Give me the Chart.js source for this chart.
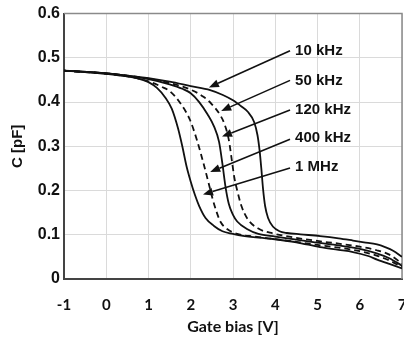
<!DOCTYPE html>
<html>
<head>
<meta charset="utf-8">
<script src="https://cdn.jsdelivr.net/npm/chart.js@4.4.1/dist/chart.umd.min.js"></script>
<style>
  html, body { margin: 0; padding: 0; background: #fff; overflow: hidden; }
  #wrap { position: absolute; left: 0; top: 0; }
</style>
</head>
<body>
<div id="wrap"><canvas id="cv" width="406" height="338"></canvas></div>
<script>
// gate bias (V) and capacitance (pF), one pair per frequency
const bias10k = [-1, 0, 0.5, 1, 1.5, 2, 2.46, 2.76, 3.0, 3.2, 3.35, 3.5, 3.58, 3.63, 3.67, 3.71, 3.76, 3.83, 3.95, 4.1, 4.28, 4.6, 5.06, 5.5, 5.84, 6.1, 6.41, 6.6, 6.79, 7];
const cap10k  = [0.471, 0.465, 0.46, 0.454, 0.446, 0.436, 0.427, 0.416, 0.404, 0.39, 0.378, 0.355, 0.325, 0.29, 0.25, 0.205, 0.165, 0.138, 0.118, 0.108, 0.104, 0.101, 0.097, 0.092, 0.087, 0.083, 0.078, 0.072, 0.064, 0.05];

const bias50k = [-1, 0, 0.5, 1, 1.5, 2, 2.3, 2.5, 2.7, 2.8, 2.9, 2.97, 3.03, 3.1, 3.2, 3.35, 3.6, 3.95, 4.5, 5, 5.5, 6, 6.4, 6.7, 7];
const cap50k  = [0.471, 0.465, 0.46, 0.453, 0.443, 0.428, 0.412, 0.395, 0.37, 0.35, 0.315, 0.27, 0.23, 0.2, 0.165, 0.135, 0.114, 0.103, 0.093, 0.086, 0.08, 0.073, 0.065, 0.055, 0.035];

const bias120k = [-1, 0, 0.5, 1, 1.5, 1.8, 2.0, 2.2, 2.4, 2.55, 2.67, 2.75, 2.82, 2.9, 3.0, 3.1, 3.33, 3.6, 4, 4.5, 5, 5.5, 6, 6.4, 6.7, 7];
const cap120k  = [0.471, 0.465, 0.459, 0.452, 0.44, 0.43, 0.42, 0.4, 0.372, 0.345, 0.31, 0.26, 0.21, 0.17, 0.145, 0.13, 0.113, 0.102, 0.096, 0.089, 0.082, 0.076, 0.068, 0.058, 0.047, 0.03];

const bias400k = [-1, 0, 0.5, 1, 1.3, 1.5, 1.75, 1.98, 2.15, 2.3, 2.42, 2.52, 2.6, 2.7, 2.86, 3.1, 3.5, 4, 4.5, 5, 5.5, 6, 6.4, 6.7, 7];
const cap400k  = [0.471, 0.464, 0.458, 0.447, 0.435, 0.425, 0.398, 0.36, 0.313, 0.262, 0.218, 0.18, 0.155, 0.13, 0.113, 0.102, 0.096, 0.09, 0.084, 0.077, 0.071, 0.063, 0.053, 0.042, 0.027];

const bias1M = [-1, -0.5, 0, 0.5, 0.8, 1.0, 1.2, 1.4, 1.55, 1.7, 1.8, 1.9, 2.0, 2.1, 2.2, 2.35, 2.55, 2.75, 3.0, 3.2, 3.9, 4.5, 5.06, 5.5, 5.84, 6.2, 6.41, 6.7, 7];
const cap1M  = [0.471, 0.468, 0.464, 0.458, 0.452, 0.445, 0.432, 0.41, 0.385, 0.34, 0.30, 0.255, 0.22, 0.19, 0.165, 0.138, 0.12, 0.108, 0.102, 0.098, 0.091, 0.083, 0.072, 0.066, 0.061, 0.052, 0.044, 0.034, 0.024];

const xTicks = [-1, 0, 1, 2, 3, 4, 5, 6, 7];
const yTicks = [0, 0.1, 0.2, 0.3, 0.4, 0.5, 0.6];
const yTickLabels = ['0', '0.1', '0.2', '0.3', '0.4', '0.5', '0.6'];

// callout labels: text, text anchor (V, pF), arrow tail, arrow tip
const labelText = ['10 kHz', '50 kHz', '120 kHz', '400 kHz', '1 MHz'];
const labelPos  = [[4.47, 0.516], [4.47, 0.449], [4.47, 0.382], [4.47, 0.318], [4.47, 0.253]];
const arrowFrom = [[4.35, 0.516], [4.35, 0.449], [4.35, 0.382], [4.35, 0.316], [4.35, 0.251]];
const arrowTo   = [[2.43, 0.433], [2.72, 0.38], [2.74, 0.322], [2.46, 0.242], [2.29, 0.191]];

const INK = '#111';

function pairs(xs, ys) { return xs.map((x, i) => ({ x: x, y: ys[i] })); }

function series(xs, ys, dashed) {
  return {
    data: pairs(xs, ys),
    borderColor: INK,
    borderWidth: 1.8,
    borderDash: dashed ? [6, 4] : [],
    pointRadius: 0,
    fill: false,
    cubicInterpolationMode: 'monotone'
  };
}

const frame = {
  id: 'frame',
  beforeDatasetsDraw(chart) {
    const { ctx, chartArea: a } = chart;
    ctx.save();
    ctx.strokeStyle = '#8a8a8a';
    ctx.lineWidth = 1.5;
    ctx.beginPath();
    ctx.moveTo(a.left, a.top);
    ctx.lineTo(a.right, a.top);
    ctx.lineTo(a.right, a.bottom);
    ctx.stroke();
    ctx.restore();
  }
};

const callouts = {
  id: 'callouts',
  afterDatasetsDraw(chart) {
    const { ctx, scales: { x, y } } = chart;
    ctx.save();
    ctx.strokeStyle = INK;
    ctx.fillStyle = INK;
    ctx.lineWidth = 1.6;
    labelText.forEach((t, i) => {
      const x0 = x.getPixelForValue(arrowFrom[i][0]), y0 = y.getPixelForValue(arrowFrom[i][1]);
      const x1 = x.getPixelForValue(arrowTo[i][0]), y1 = y.getPixelForValue(arrowTo[i][1]);
      const ang = Math.atan2(y1 - y0, x1 - x0);
      const len = 10, half = 4;
      const bx = x1 - len * Math.cos(ang), by = y1 - len * Math.sin(ang);
      ctx.beginPath();
      ctx.moveTo(x0, y0);
      ctx.lineTo(bx, by);
      ctx.stroke();
      ctx.beginPath();
      ctx.moveTo(x1, y1);
      ctx.lineTo(bx + half * Math.sin(ang), by - half * Math.cos(ang));
      ctx.lineTo(bx - half * Math.sin(ang), by + half * Math.cos(ang));
      ctx.closePath();
      ctx.fill();

      ctx.font = 'bold 15px "Liberation Sans", Arial, sans-serif';
      ctx.textAlign = 'left';
      ctx.textBaseline = 'middle';
      ctx.fillText(t, x.getPixelForValue(labelPos[i][0]), y.getPixelForValue(labelPos[i][1]));
    });
    ctx.restore();
  }
};

new Chart(document.getElementById('cv'), {
  type: 'line',
  data: {
    datasets: [
      series(bias10k, cap10k, false),
      series(bias50k, cap50k, true),
      series(bias120k, cap120k, false),
      series(bias400k, cap400k, true),
      series(bias1M, cap1M, false)
    ]
  },
  options: {
    responsive: false,
    animation: false,
    layout: { padding: { top: 9, left: 0, right: 0, bottom: 0 } },
    plugins: { legend: { display: false }, tooltip: { enabled: false } },
    scales: {
      x: {
        type: 'linear',
        min: -1,
        max: 7,
        afterBuildTicks: s => { s.ticks = xTicks.map(v => ({ value: v })); },
        afterFit: s => { s.height = 59; s.paddingLeft = 0; s.paddingRight = 4; },
        grid: { color: '#dadada', lineWidth: 1, drawTicks: false },
        border: { color: '#444', width: 2 },
        ticks: {
          color: '#111',
          padding: 17,
          maxRotation: 0,
          font: { family: 'Lato', weight: 'bold', size: 15 }
        },
        title: {
          display: true,
          text: 'Gate bias [V]',
          color: '#111',
          padding: { top: 0, bottom: 2 },
          font: { family: 'Lato', weight: 'bold', size: 16 }
        }
      },
      y: {
        min: 0,
        max: 0.6,
        afterBuildTicks: s => { s.ticks = yTicks.map(v => ({ value: v })); },
        afterFit: s => { s.width = 64; },
        grid: { color: '#dadada', lineWidth: 1, drawTicks: false },
        border: { color: '#444', width: 2 },
        ticks: {
          color: '#111',
          padding: 4,
          callback: (v, i) => yTickLabels[i],
          font: { family: 'Liberation Sans', weight: 'bold', size: 16 }
        },
        title: {
          display: true,
          text: 'C [pF]',
          color: '#111',
          padding: { top: 9, bottom: 0 },
          font: { family: 'Liberation Sans', weight: 'bold', size: 15 }
        }
      }
    }
  },
  plugins: [frame, callouts]
});
</script>
</body>
</html>
